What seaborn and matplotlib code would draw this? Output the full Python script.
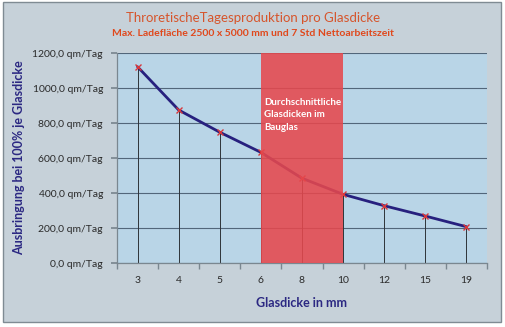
import matplotlib
matplotlib.use("Agg")
import matplotlib.pyplot as plt
import seaborn as sns
import pandas as pd
from matplotlib.patches import Rectangle
from matplotlib.ticker import FixedLocator

categories = ["3", "4", "5", "6", "8", "10", "12", "15", "19"]
values = [1123, 876, 749, 634, 486, 394, 329, 270, 209]
y_ticks = [0, 200, 400, 600, 800, 1000, 1200]
y_tick_labels = [f"{v},0 qm/Tag" for v in y_ticks]
span_start, span_end = "6", "10"

title = "ThroretischeTagesproduktion pro Glasdicke"
subtitle = "Max. Ladefläche 2500 x 5000 mm und 7 Std Nettoarbeitszeit"
span_text = "Durchschnittliche\nGlasdicken im\nBauglas"
xlabel = "Glasdicke in mm"
ylabel = "Ausbringung bei 100% je Glasdicke"

sns.set_theme(style="white")
plt.rcParams["font.family"] = ["Lato", "DejaVu Sans"]

df = pd.DataFrame({"Glasdicke": categories, "Wert": values})

fig = plt.figure(figsize=(5.06, 3.27), dpi=100)
fig.patch.set_facecolor("white")
W, H = 506, 327
fig.patches.append(Rectangle((3 / W, 5 / H), 498 / W, 320 / H, transform=fig.transFigure,
                             facecolor="#c6d1d9", edgecolor="#7f8b93", linewidth=1.0, zorder=-10))

ax = fig.add_axes([117 / W, (327 - 263.3) / H, 370 / W, 210 / H])
ax.set_facecolor("#b9d5e7")

sns.pointplot(data=df, x="Glasdicke", y="Wert", order=categories, ax=ax,
              color="#27207e", markers="x", linestyles="-", linewidth=2.0,
              markersize=5, errorbar=None, zorder=3)
for coll in ax.collections:
    coll.set_edgecolor("#d8383c")
    coll.set_facecolor("#d8383c")
    coll.set_zorder(4)
for ln in ax.lines:
    ln.set_markeredgecolor("#d8383c")
    ln.set_markerfacecolor("#d8383c")
    ln.set_markeredgewidth(1.0)

pos = list(range(len(categories)))
ax.vlines(pos, 0, values, color="#2e3338", linewidth=0.7, zorder=2)

i0, i1 = categories.index(span_start), categories.index(span_end)
ax.axvspan(i0, i1, color="#e6484d", alpha=0.88, linewidth=0, zorder=5)
ax.text(i0 + 0.07, 945, span_text, color="white", fontsize=7, fontweight="bold",
        va="top", ha="left", linespacing=1.5, zorder=6)

ax.set_xlim(-0.5, len(categories) - 0.5)
ax.set_ylim(0, 1200)
ax.set_yticks(y_ticks)
ax.set_yticklabels(y_tick_labels, fontsize=7.5, color="#2a2a2a")
ax.yaxis.grid(True, color="#52667a", linewidth=0.8)
ax.set_axisbelow(True)
ax.tick_params(axis="y", which="major", direction="out", length=4, color="#7a8790", pad=6, left=True)
ax.tick_params(axis="x", which="major", length=0, pad=9, labelsize=7.5, labelcolor="#2a2a2a")
ax.xaxis.set_minor_locator(FixedLocator([p - 0.5 for p in range(len(categories) + 1)]))
ax.tick_params(axis="x", which="minor", direction="out", length=4, color="#7a8790", bottom=True)

for s in ["top", "right"]:
    ax.spines[s].set_visible(False)
for s in ["left", "bottom"]:
    ax.spines[s].set_color("#7a8790")
    ax.spines[s].set_linewidth(0.9)

ax.set_xlabel(xlabel, fontsize=9, color="#2b2882", labelpad=9, fontweight="bold")
ax.set_ylabel("")
fig.text(19 / W, 1 - 158 / H, ylabel, rotation=90, fontsize=9, color="#2b2882",
         ha="center", va="center", fontweight="bold")

fig.text(253 / W, 1 - 18 / H, title, fontsize=9.5, color="#d6552c", ha="center", va="center")
fig.text(253 / W, 1 - 33 / H, subtitle, fontsize=7.5, color="#e0481c", ha="center",
         va="center", fontweight="bold")

fig.savefig("out.png", dpi=100, facecolor=fig.get_facecolor())
